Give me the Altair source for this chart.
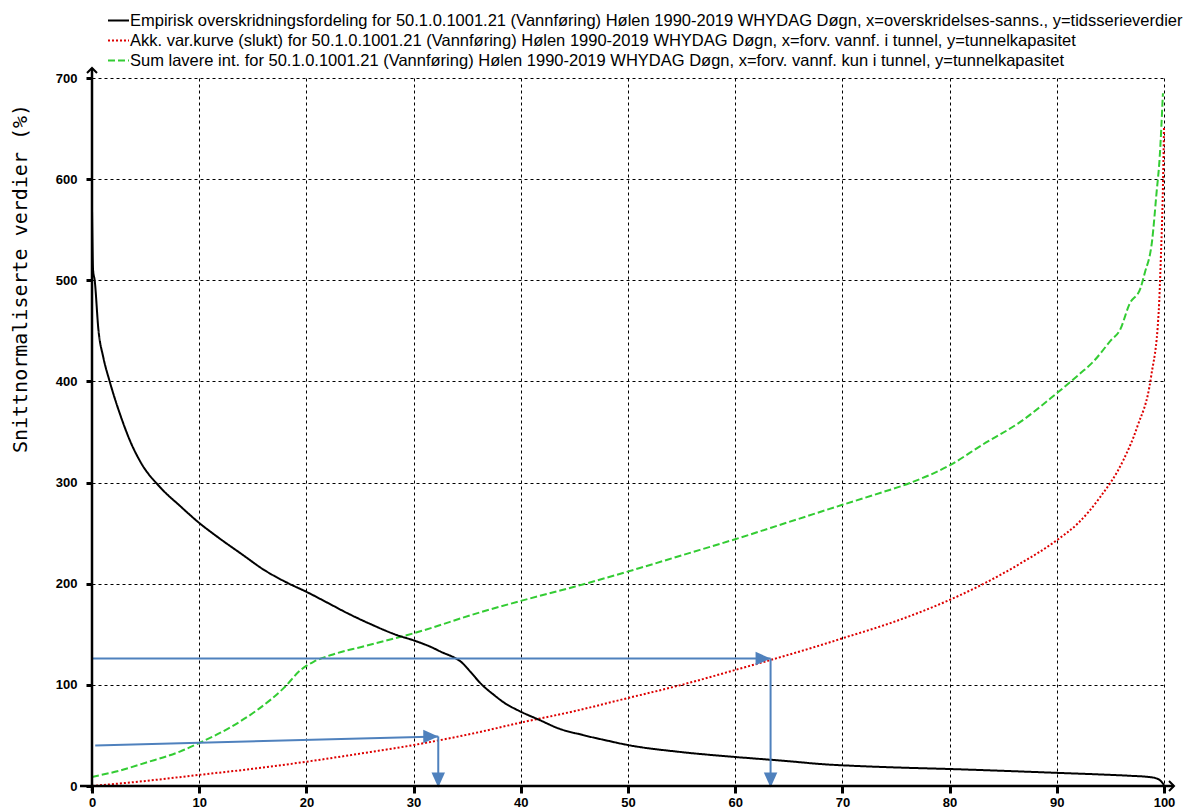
import altair as alt
import pandas as pd

# ---------------- data ----------------
series_names = [
    "Empirisk overskridningsfordeling for 50.1.0.1001.21 (Vannføring) Hølen  1990-2019 WHYDAG Døgn, x=overskridelses-sanns., y=tidsserieverdier",
    "Akk. var.kurve (slukt) for 50.1.0.1001.21 (Vannføring) Hølen  1990-2019 WHYDAG Døgn, x=forv. vannf. i tunnel, y=tunnelkapasitet",
    "Sum lavere int. for 50.1.0.1001.21 (Vannføring) Hølen  1990-2019 WHYDAG Døgn, x=forv. vannf. kun i tunnel, y=tunnelkapasitet",
]
series_colors = ["#000000", "#dd0000", "#33cc33"]
series_dashes = [[1, 0], [2, 2], [7, 3]]

black_x = [0, 0.1, 0.25, 0.6, 1.05, 1.65, 2.7, 3.6, 4.6, 6.3, 8.2, 9.9, 12, 14, 16, 18.2,
           20, 22, 23.8, 26, 28.5, 30, 31.5, 32.8, 33.6, 34.4, 35.3, 36.2, 37.5, 38.5,
           39.7, 41.8, 43.5, 45.8, 48, 50, 55, 60, 65, 68, 72, 76, 80, 85, 90, 95, 97,
           98.5, 99.3, 99.7, 100]
black_y = [571, 510, 500, 451, 424, 400, 365, 340, 319, 296, 277, 261, 244, 229, 214, 201,
           192, 181, 171, 160, 149, 144, 138, 131.5, 128, 123, 113, 102, 90, 82,
           75, 65, 57, 50.4, 45, 40.5, 33.5, 28.7, 24.5, 21.7, 19.5, 18, 16.8, 15, 13, 11, 10,
           9, 7.5, 5, 1]

red_x = [0, 5, 10, 15, 20, 25, 30, 36.3, 39.7, 45, 50, 55, 60, 63.3, 67.9, 70, 75, 80, 83,
         86.6, 90, 92, 94, 96.2, 97.5, 98.8, 99.5, 99.7, 99.9, 100]
red_y = [0, 5, 11, 17, 24, 32, 40.5, 53.7, 62, 74, 87, 100, 114.7, 124.6, 139, 146, 163, 184, 199,
         220, 243, 260, 285, 322, 355, 405, 468, 520, 592, 651]

green_x = [0, 2.5, 5, 8.2, 10, 13, 15.4, 17.9, 19.5, 20.7, 22.3, 25.3, 30, 36.3, 40, 45, 51.1,
           55, 60, 65, 70, 73, 76.3, 80, 83, 86.6, 89.8, 92.2, 93.4, 95, 95.9, 96.8, 97.8,
           98.2, 98.9, 99.3, 99.6, 99.9]
green_y = [9, 15, 23, 34, 42.5, 58.6, 75, 97, 115, 123, 129.5, 138, 151, 172, 183, 197, 215.5,
           228, 244, 261, 278, 288, 299.6, 317, 337, 360, 386.6, 408, 419.5, 440, 451, 477, 492,
           507, 540, 586, 622, 685]

# annotation arrows (blue)
arrow_seg = ["A1", "A1", "A2", "A2", "B1", "B1", "B2", "B2"]
arrow_x = [0.3, 32.3, 32.3, 32.3, 0, 63.3, 63.3, 63.3]
arrow_y = [40, 49, 49, 0, 126, 126, 126, 0]
head_right_x = [32.3, 63.3]
head_right_y = [49, 126]
head_down_x = [32.3, 63.3]
head_down_y = [-1.5, -1.5]

x_ticks = list(range(0, 101, 10))
y_ticks = list(range(0, 701, 100))
y_title = "Snittnormaliserte verdier (%)"

# ---------------- build tables ----------------
rows = []
for name, xs, ys in [(series_names[2], green_x, green_y),
                     (series_names[1], red_x, red_y),
                     (series_names[0], black_x, black_y)]:
    for i, (a, b) in enumerate(zip(xs, ys)):
        rows.append({"series": name, "x": a, "y": b, "i": i})
curves = pd.DataFrame(rows)
arrows = pd.DataFrame({"seg": arrow_seg, "x": arrow_x, "y": arrow_y,
                       "i": list(range(len(arrow_x)))})
heads_r = pd.DataFrame({"x": head_right_x, "y": head_right_y})
heads_d = pd.DataFrame({"x": head_down_x, "y": head_down_y})

W, H = 1072, 708
blue = "#4f81bd"

xscale = alt.Scale(domain=[0, 100], nice=False, zero=False)
yscale = alt.Scale(domain=[0, 700], nice=False)

xaxis = alt.Axis(values=x_ticks, title=None, domain=False, grid=True, gridDash=[3, 3],
                 gridColor="#000000", gridOpacity=1, gridWidth=1, ticks=True,
                 tickColor="#000000", tickSize=7, tickWidth=3, tickOpacity=1, labelPadding=3,
                 labelFont="Liberation Sans", labelFontWeight="bold", labelFontSize=13,
                 labelColor="#000000", labelFlush=False, labelOverlap=False)
yaxis = alt.Axis(values=y_ticks, title=y_title, domain=False, grid=True, gridDash=[3, 3],
                 gridColor="#000000", gridOpacity=1, gridWidth=1, ticks=True,
                 tickColor="#000000", tickSize=6, tickWidth=3, tickOpacity=1, labelPadding=9,
                 labelFont="Liberation Sans", labelFontWeight="bold", labelFontSize=13,
                 labelColor="#000000", labelFlush=False, labelOverlap=False,
                 titleFont="DejaVu Sans Mono", titleFontSize=20, titleFontWeight="normal",
                 titleColor="#000000", titleAngle=-90, titleX=-72, titleY=200,
                 titleAlign="center", titleBaseline="middle")

legend = alt.Legend(title=None, orient="none", legendX=-6, legendY=-69,
                    symbolType="stroke", symbolSize=441, symbolStrokeWidth=2,
                    symbolOffset=21,
                    labelFont="Liberation Sans", labelFontSize=16.5, labelColor="#000000",
                    labelLimit=1300, rowPadding=0, labelOffset=0, padding=0)

lines = alt.Chart(curves).mark_line(strokeWidth=2, interpolate="monotone").encode(
    x=alt.X("x:Q", scale=xscale, axis=xaxis),
    y=alt.Y("y:Q", scale=yscale, axis=yaxis),
    color=alt.Color("series:N", scale=alt.Scale(domain=series_names, range=series_colors),
                    legend=legend),
    strokeDash=alt.StrokeDash("series:N",
                              scale=alt.Scale(domain=series_names, range=series_dashes),
                              legend=legend),
    order="i:Q",
)

arrow_lines = alt.Chart(arrows).mark_line(color=blue, strokeWidth=2).encode(
    x=alt.X("x:Q", scale=xscale), y=alt.Y("y:Q", scale=yscale),
    detail="seg:N", order="i:Q")

head_r = alt.Chart(heads_r).mark_point(
    shape="M0,0L-1,-0.45L-1,0.45Z", size=900, filled=True, color=blue, opacity=1
).encode(x=alt.X("x:Q", scale=xscale), y=alt.Y("y:Q", scale=yscale))
head_d = alt.Chart(heads_d).mark_point(
    shape="M0,0L-0.45,-1L0.45,-1Z", size=900, filled=True, color=blue, opacity=1
).encode(x=alt.X("x:Q", scale=xscale), y=alt.Y("y:Q", scale=yscale))

one = pd.DataFrame({"k": [0]})
y_axis_line = alt.Chart(one).mark_rule(color="#000000", strokeWidth=2.5).encode(
    x=alt.value(0), y=alt.value(-10), y2=alt.value(H + 5))
x_axis_line = alt.Chart(one).mark_rule(color="#000000", strokeWidth=2.5).encode(
    x=alt.value(-12), x2=alt.value(W + 10), y=alt.value(H))
y_arrow = alt.Chart(one).mark_point(
    shape="M-1,1L0,0L1,1", size=100, filled=False, color="#000000", strokeWidth=2, opacity=1
).encode(x=alt.value(0), y=alt.value(-10))
x_arrow = alt.Chart(one).mark_point(
    shape="M-1,-1L0,0L-1,1", size=100, filled=False, color="#000000", strokeWidth=2, opacity=1
).encode(x=alt.value(W + 10), y=alt.value(H))

chart = alt.layer(
    lines, arrow_lines, head_r, head_d, y_axis_line, x_axis_line, y_arrow, x_arrow
).properties(
    width=W, height=H,
    autosize=alt.AutoSizeParams(type="none"),
    padding={"left": 84, "top": 70, "right": 30, "bottom": 24},
    background="#ffffff",
).configure_view(stroke=None)

chart.save("out.html", embed_options={"renderer": "svg", "actions": False})
